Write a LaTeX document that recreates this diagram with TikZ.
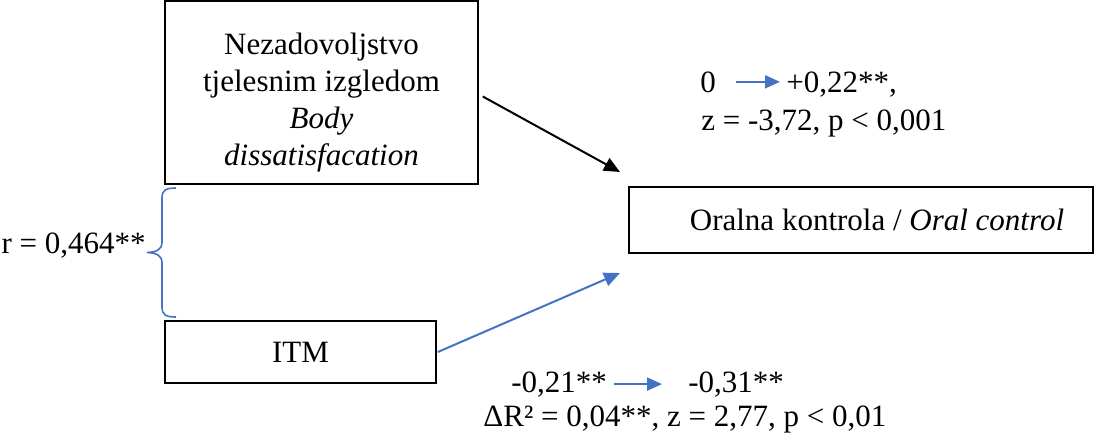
\documentclass[tikz,border=0pt]{standalone}
\usepackage{fontspec}
\setmainfont{Liberation Serif}
\usetikzlibrary{arrows.meta}
\definecolor{accblue}{RGB}{68,114,196}
\tikzset{
 varbox/.style={draw,line width=0.8pt,align=center,inner sep=0pt},
 effarrow/.style={line width=1pt,-{Triangle[length=8pt,width=7pt]}},
 txtarrow/.style={accblue,line width=1pt,-{Triangle[length=7.5pt,width=6.5pt]}},
 lbl/.style={anchor=base west,inner sep=0pt}
}
\begin{document}
\begin{tikzpicture}[x=0.5pt,y=-0.5pt,font=\fontsize{15.5}{18.5}\selectfont]
 \useasboundingbox (0,0) rectangle (1112,435);
 % variables
 \node[varbox,minimum width=156.5pt,minimum height=91.5pt] (bd) at (321.5,92.5)
  {\rule{0pt}{21pt}Nezadovoljstvo\\tjelesnim izgledom\\\textit{Body}\\\textit{dissatisfacation}};
 \node[varbox,minimum width=135.5pt,minimum height=31pt] (itm) at (300.5,352) {ITM};
 \node[varbox,minimum width=232pt,minimum height=33pt] (oc) at (861,220)
  {\hspace*{16pt}Oralna kontrola / \textit{Oral control}};
 % paths
 \coordinate (bdhit) at (620,172);
 \coordinate (itmhit) at (620,273);
 \draw[effarrow] ([shift={(2pt,-2pt)}]bd.east) -- (bdhit);
 \draw[effarrow,accblue] ([xshift=0.5pt]itm.east) -- (itmhit);
 % correlation
 \draw[accblue,line width=0.8pt] (176,188) .. controls (166,188) and (162,190) .. (162,198)
  -- (162,242) .. controls (162,250) and (156,252) .. (147,252.5)
  .. controls (156,253) and (162,255) .. (162,263)
  -- (162,307) .. controls (162,315) and (166,317) .. (176,317);
 \node[anchor=base east,inner sep=0pt] (rr) at (146,253) {r = 0,464**};
 % change for body dissatisfaction
 \node[lbl] (bd0) at (700,92) {0};
 \node[lbl] (bd1) at (786,92) {+0,22**,};
 \draw[txtarrow,shorten <=10pt,shorten >=3pt] (bd0.east) -- (bd0.east -| bd1.west);
 \node[lbl] (bdz) at (701,130) {z = -3,72, p < 0,001};
 % change for ITM
 \node[lbl] (itm0) at (511,392) {-0,21**};
 \node[lbl] (itm1) at (688,392) {-0,31**};
 \draw[txtarrow,shorten <=3.5pt,shorten >=13pt] (itm0.east) -- (itm0.east -| itm1.west);
 \node[lbl] (itmz) at (483,426) {ΔR² = 0,04**, z = 2,77, p < 0,01};
\end{tikzpicture}
\end{document}
